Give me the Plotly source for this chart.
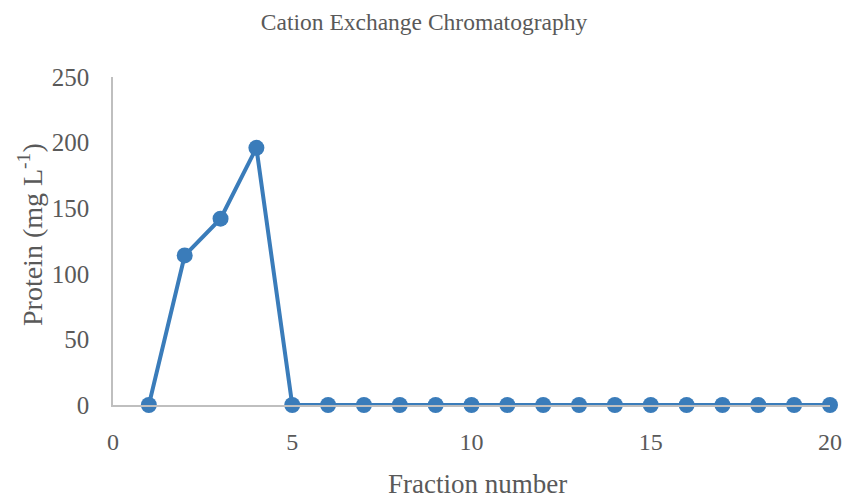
import plotly.graph_objects as go

# Protein concentration per collected fraction
fractions = list(range(1, 21))
protein_mg_per_l = [0, 114, 142, 196, 0, 0, 0, 0, 0, 0,
                    0, 0, 0, 0, 0, 0, 0, 0, 0, 0]

x_ticks = [0, 5, 10, 15, 20]
y_ticks = [0, 50, 100, 150, 200, 250]

line_color = "#3A7CBA"
text_color = "#595959"
axis_color = "#BFBFBF"
font_family = "Liberation Serif, Times New Roman, serif"

W, H = 848, 500
M_L, M_R, M_T, M_B = 113, 18, 77, 95
plot_w = W - M_L - M_R
plot_h = H - M_T - M_B

fig = go.Figure(
    go.Scatter(
        x=fractions,
        y=protein_mg_per_l,
        mode="lines+markers",
        line=dict(color=line_color, width=4),
        marker=dict(color=line_color, size=16),
        cliponaxis=False,
        showlegend=False,
    )
)

fig.update_layout(
    width=W,
    height=H,
    margin=dict(l=M_L, r=M_R, t=M_T, b=M_B, autoexpand=False),
    paper_bgcolor="white",
    plot_bgcolor="white",
    font=dict(family=font_family, color=text_color, size=24),
    title=dict(
        text="Cation Exchange Chromatography",
        font=dict(family=font_family, size=23.5, color=text_color),
        x=0.5,
        xref="container",
        xanchor="center",
        y=1 - 22 / H,
        yref="container",
        yanchor="middle",
    ),
    xaxis=dict(
        range=[0, 20],
        tickvals=x_ticks,
        ticktext=[str(v) for v in x_ticks],
        showgrid=False,
        zeroline=False,
        showline=True,
        linecolor=axis_color,
        linewidth=1.5,
        ticks="",
        ticklabelstandoff=14,
        tickfont=dict(size=24, color=text_color),
        automargin=False,
    ),
    yaxis=dict(
        range=[0, 250],
        tickvals=y_ticks,
        ticktext=[str(v) for v in y_ticks],
        showgrid=False,
        zeroline=False,
        showline=True,
        linecolor=axis_color,
        linewidth=1.5,
        ticks="",
        ticklabelstandoff=17,
        tickfont=dict(size=25, color=text_color),
        automargin=False,
    ),
    annotations=[
        dict(
            text="Fraction number",
            xref="paper", yref="paper",
            x=(477 - M_L) / plot_w,
            y=(H - M_B - 484) / plot_h,
            xanchor="center", yanchor="middle",
            showarrow=False,
            font=dict(size=27, color=text_color),
        ),
        dict(
            text="Protein (mg L<sup>-1</sup>)",
            xref="paper", yref="paper",
            x=(30 - M_L) / plot_w,
            y=(H - M_B - 235) / plot_h,
            xanchor="center", yanchor="middle",
            textangle=-90,
            showarrow=False,
            font=dict(size=28, color=text_color),
        ),
    ],
)

fig.write_html("out.html")
